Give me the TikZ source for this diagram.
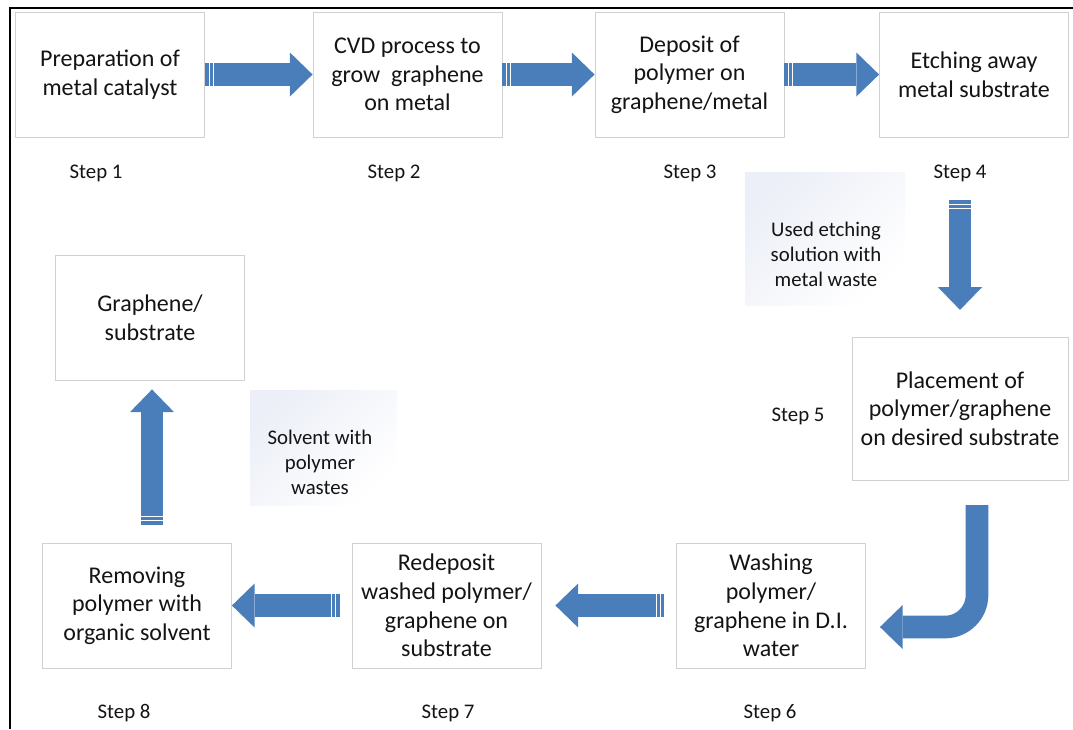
\documentclass[tikz,border=0pt]{standalone}
\usepackage{fontspec}
\setmainfont{Carlito}
\usepackage{tikz}
\usetikzlibrary{arrows.meta, calc, decorations.markings}
\definecolor{arrowblue}{RGB}{74,126,187}
\definecolor{wasteblue}{RGB}{236,239,247}
\newcommand{\boxfont}{\fontsize{18}{21.5}\selectfont}
\newcommand{\stepfont}{\fontsize{15.6}{18.8}\selectfont}
\tikzset{stepbox/.style={draw=black!18, fill=white, text=black!92, align=center, font=\boxfont, minimum width=142pt, minimum height=94pt, inner sep=2pt}}
\tikzset{steplabel/.style={anchor=base, text=black!92, font=\stepfont}}
\tikzset{wastebg/.style={top color=wasteblue, bottom color=white, shading angle=45}}
\tikzset{wastetext/.style={align=center, text=black!92, font=\stepfont}}
\tikzset{fatarrow/.style={draw=arrowblue, line width=17pt, -{Triangle[length=17pt, width=33pt, line width=0pt]}}}
\tikzset{striped/.style={postaction={decorate, decoration={markings,
    mark=at position 3pt with {\draw[-, white, line width=0.5pt] (0,-11.5) -- (0,11.5);},
    mark=at position 6pt with {\draw[-, white, line width=0.5pt] (0,-11.5) -- (0,11.5);}}}}}

\begin{document}
\begin{tikzpicture}[x=0.75pt, y=-0.75pt]
            \useasboundingbox (0,0) rectangle (1073,729);
            \draw[line width=1.5pt] (1073,8) -| (10,729);
            % steps
            \node[stepbox] (b1) at (110,74.5) {Preparation of\\metal catalyst};
            \node[stepbox] (b2) at (407.5,74.5) {CVD process to\\grow\ \ graphene\\on metal};
            \node[stepbox] (b3) at (689.5,74.5) {Deposit of\\polymer on\\graphene/metal};
            \node[stepbox] (b4) at (974,74.5) {Etching away\\metal substrate};
            \node[stepbox, minimum width=162pt, minimum height=107pt] (b5) at (960,408.5) {Placement of\\polymer/graphene\\on desired substrate};
            \node[stepbox] (b6) at (771,605.5) {Washing\\polymer/\\graphene in D.I.\\water};
            \node[stepbox] (b7) at (446.5,605.5) {Redeposit\\washed polymer/\\graphene on\\substrate};
            \node[stepbox] (b8) at (137,605.5) {Removing\\polymer with\\organic solvent};
            \node[stepbox] (b9) at (150,317.5) {Graphene/\\substrate};
            \node[steplabel] (s1) at (96,178) {Step 1};
            \node[steplabel] (s2) at (394,178) {Step 2};
            \node[steplabel] (s3) at (690,178) {Step 3};
            \node[steplabel] (s4) at (960,178) {Step 4};
            \node[steplabel] (s5) at (798,421) {Step 5};
            \node[steplabel] (s6) at (770,718) {Step 6};
            \node[steplabel] (s7) at (448,718) {Step 7};
            \node[steplabel] (s8) at (124,718) {Step 8};
            % wastes
            \shade[wastebg] (745,172) rectangle (905,305);
            \node[wastetext] (etch) at (826,254) {Used etching\\solution with\\metal waste};
            \shade[wastebg] (250,390) rectangle (397,505);
            \node[wastetext] (solv) at (320,462) {Solvent with\\polymer\\wastes};
            % arrows
            \draw[fatarrow, striped] (b1.east) -- (b2.west);
            \draw[fatarrow, striped] (b2.east) -- (b3.west);
            \draw[fatarrow, striped] (b3.east) -- (b4.west);
            \draw[fatarrow, striped] ($(b4.south -| b5.north)+(0,63)$) -- ($(b5.north)+(0,-27)$);
            \draw[fatarrow, rounded corners=24pt] ($(b5.south)+(17,25)$) |- ($(b6.east)+(14,21.5)$);
            \draw[fatarrow, striped] ($(b6.west)+(-12,0)$) -- ($(b7.east)+(14,0)$);
            \draw[fatarrow, striped] ($(b7.west)+(-12,0)$) -- (b8.east);
            \draw[fatarrow, striped] ($(b8.north)+(15,-18)$) -- ($(b9.south)+(2,9)$);
        \end{tikzpicture}
\end{document}
